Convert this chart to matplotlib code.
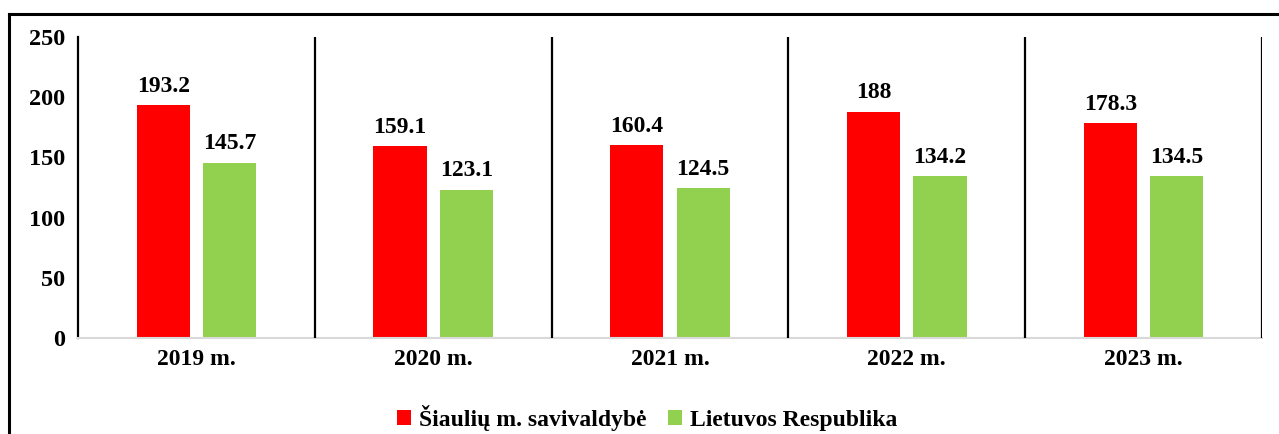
import matplotlib
matplotlib.use("Agg")
import matplotlib.pyplot as plt
from matplotlib.lines import Line2D
from matplotlib.patches import Patch
import numpy as np

categories = ["2019 m.", "2020 m.", "2021 m.", "2022 m.", "2023 m."]
siauliai = [193.2, 159.1, 160.4, 188, 178.3]
lietuva = [145.7, 123.1, 124.5, 134.2, 134.5]
series_names = ["Šiaulių m. savivaldybė", "Lietuvos Respublika"]
yticks = [0, 50, 100, 150, 200, 250]

RED = "#ff0000"
GREEN = "#92d050"
plt.rcParams["font.family"] = ["Liberation Serif", "DejaVu Serif"]
plt.rcParams["font.weight"] = "bold"

fig = plt.figure(figsize=(12.79, 4.34), dpi=100)
ax = fig.add_axes([78/1279, 1-338/434, (1262-78)/1279, (338-37)/434])

x = np.arange(len(categories))
w = 0.225
off = 0.14
b1 = ax.bar(x - off, siauliai, w, color=RED, label=series_names[0])
b2 = ax.bar(x + off, lietuva, w, color=GREEN, label=series_names[1])

def fmt(v):
    return ("%g" % v)

for bars, vals in ((b1, siauliai), (b2, lietuva)):
    for r, v in zip(bars, vals):
        ax.annotate(fmt(v), (r.get_x() + r.get_width()/2, v), xytext=(0, 6),
                    textcoords="offset points", ha="center", va="bottom",
                    fontsize=17, fontweight="bold")

ax.set_xlim(-0.5, len(categories) - 0.5)
ax.set_ylim(0, 250)
ax.set_yticks(yticks)
ax.set_yticklabels([str(t) for t in yticks], fontsize=17.5, fontweight="bold")
ax.set_xticks(x)
ax.set_xticklabels(categories, fontsize=17, fontweight="bold")
ax.tick_params(axis="both", length=0)
ax.tick_params(axis="y", pad=9)
ax.tick_params(axis="x", pad=8)

for s in ("top", "right"):
    ax.spines[s].set_visible(False)
ax.spines["left"].set_color("black")
ax.spines["left"].set_linewidth(1.6)
ax.spines["bottom"].set_color("#d9d9d9")
ax.spines["bottom"].set_linewidth(1.5)

for xv in np.arange(0.5, len(categories), 1.0):
    ax.axvline(xv, color="black", lw=1.6, zorder=3)

# figure frame
fig.add_artist(Line2D([9/1279, 1.0], [1-14/434, 1-14/434], transform=fig.transFigure, color="black", lw=2.2))
fig.add_artist(Line2D([9/1279, 9/1279], [0, 1-14/434], transform=fig.transFigure, color="black", lw=2.2))

handles = [Patch(facecolor=RED), Patch(facecolor=GREEN)]
fig.legend(handles, series_names, loc="center", bbox_to_anchor=(647/1279, 1-418/434),
           ncol=2, frameon=False, fontsize=17, handlelength=0.6, handleheight=0.6,
           handletextpad=0.35, columnspacing=0.9, prop={"weight": "bold", "size": 17})

fig.savefig("out.png", dpi=100)
